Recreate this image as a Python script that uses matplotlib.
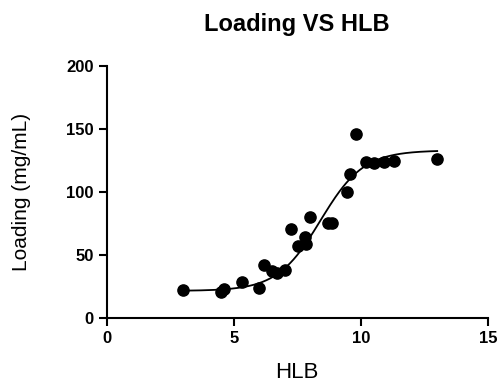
import numpy as np
import matplotlib
matplotlib.use("Agg")
import matplotlib.pyplot as plt

plt.rcParams['font.family'] = ['Liberation Sans', 'DejaVu Sans']

# measured points
hlb = [3.0, 4.5, 4.6, 5.3, 6.0, 6.2, 6.5, 6.7, 7.0, 7.25, 7.5, 7.8, 7.85,
       8.0, 8.7, 8.85, 9.45, 9.55, 9.8, 10.2, 10.5, 10.9, 11.3, 13.0]
loading = [22, 21, 23, 28.5, 24, 42, 37, 36, 38, 71, 57, 64, 59,
           80, 75.5, 75.5, 100, 114, 146, 124, 123, 124, 125, 126]

# sigmoidal fit parameters (bottom, top, midpoint, slope)
fit_bottom = 21.5
fit_top = 133.0
fit_mid = 8.4
fit_slope = 0.85

xs = np.linspace(min(hlb), max(hlb), 300)
ys = fit_bottom + (fit_top - fit_bottom) / (1 + np.exp((fit_mid - xs) / fit_slope))

fig = plt.figure(figsize=(4.97, 3.85), dpi=100)
ax = fig.add_axes([107/497, 1-318/385, 381/497, 252/385])

ax.plot(xs, ys, color='black', lw=1.3)
ax.scatter(hlb, loading, s=65, color='black', zorder=3)

ax.set_xlim(0, 15)
ax.set_ylim(0, 200)
ax.set_xticks([0, 5, 10, 15])
ax.set_yticks([0, 50, 100, 150, 200])
for s in ['top', 'right']:
    ax.spines[s].set_visible(False)
for s in ['left', 'bottom']:
    ax.spines[s].set_linewidth(1.5)
ax.tick_params(width=1.5, length=6, labelsize=12)
for lab in ax.get_xticklabels() + ax.get_yticklabels():
    lab.set_fontweight('bold')

fig.text(297/497, 1-372/385, 'HLB', fontsize=16, ha='center', va='center')
fig.text(22/497, 1-192/385, 'Loading (mg/mL)', fontsize=15, rotation=90,
         ha='center', va='center')
fig.text(297/497, 1-25/385, 'Loading VS HLB', fontsize=17, fontweight='bold',
         ha='center', va='center')

fig.savefig('out.png', dpi=100)
